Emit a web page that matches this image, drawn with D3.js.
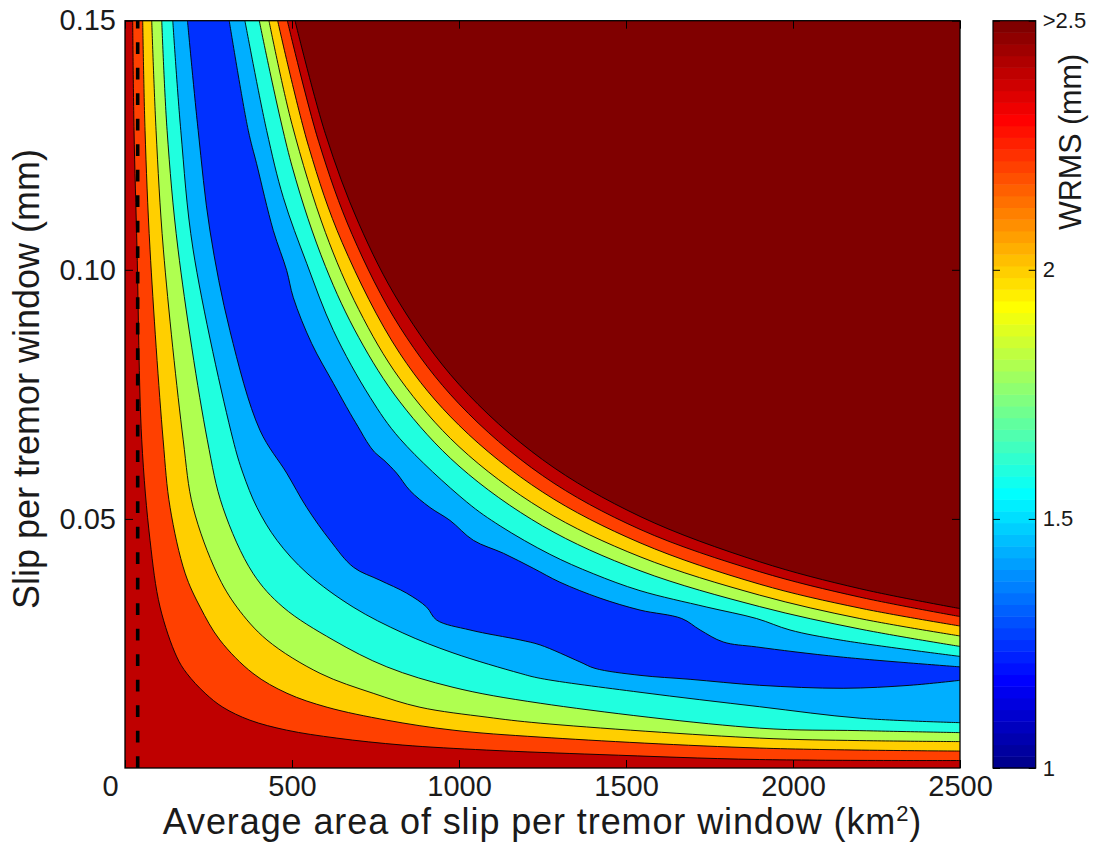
<!DOCTYPE html>
<html>
<head>
<meta charset="utf-8">
<script src="https://cdn.jsdelivr.net/npm/d3@7"></script>
<style>
  body { margin: 0; background: #fff; }
  text { font-family: "Liberation Sans", Arial, Helvetica, sans-serif; fill: #1a1a1a; }
</style>
</head>
<body>
<svg id="chart" width="1096" height="848"></svg>
<script>
// ---- Axis ticks -------------------------------------------------------
const xTicks = [0, 500, 1000, 1500, 2000, 2500];
const yTicks = [0.05, 0.10, 0.15];
const cbTicks = [1, 1.5, 2, 2.5];
const cbTickLabels = ["1", "1.5", "2", ">2.5"];

// ---- WRMS contour lines, [area km^2, slip mm] -------------------------
// Small-slip side of the misfit valley (left / bottom)
const lower24 = [[23,0.150],[27,0.128],[36,0.104],[50,0.066],[75,0.0457],[105,0.0323],[155,0.0223],[185,0.0190],[240,0.0150],[293,0.0122],[374,0.0096],[484,0.0076],[634,0.0060],[832,0.0046],[1083,0.0036],[1422,0.0027],[1900,0.0017],[2500,0.0015]];
const lower22 = [[53,0.150],[60,0.128],[75,0.104],[114,0.066],[135,0.0523],[180,0.0391],[225,0.0323],[284,0.0257],[383,0.0190],[485,0.0150],[605,0.0122],[784,0.0096],[982,0.0076],[1243,0.0062],[1900,0.0040],[2500,0.0034]];
const lower20 = [[80,0.150],[93,0.128],[115,0.104],[174,0.066],[204,0.0523],[275,0.0391],[335,0.0323],[425,0.0257],[584,0.0190],[743,0.0150],[883,0.0122],[1084,0.0102],[1243,0.0090],[1900,0.0060],[2200,0.0055],[2500,0.0053]];
const lower18 = [[110,0.150],[126,0.128],[159,0.104],[246,0.066],[293,0.0523],[383,0.0391],[473,0.0323],[623,0.0257],[784,0.0203],[982,0.0162],[1243,0.0130],[1900,0.0080],[2200,0.0075],[2500,0.0071]];
const lower16 = [[143,0.150],[167,0.128],[204,0.104],[323,0.066],[353,0.0592],[395,0.0523],[455,0.0457],[545,0.0391],[683,0.0323],[832,0.0271],[982,0.0231],[1183,0.0190],[1243,0.0180],[1542,0.0152],[1900,0.0123],[2200,0.0100],[2500,0.0091]];
const lower14 = [[187,0.150],[219,0.128],[254,0.108],[314,0.0878],[404,0.0678],[484,0.0592],[544,0.0523],[614,0.0457],[684,0.0403],[763,0.0377],[843,0.0351],[903,0.0323],[933,0.0297],[1033,0.0277],[1183,0.0257],[1243,0.0247],[1362,0.0213],[1407,0.0200],[1542,0.0186],[1692,0.0178],[1900,0.0166],[2150,0.0160],[2350,0.0166],[2500,0.0176]];
// Large-slip side of the misfit valley (upper right)
const upper14 = [[312,0.150],[369,0.128],[394,0.1213],[444,0.1079],[484,0.0999],[504,0.0944],[559,0.0852],[624,0.0772],[674,0.0712],[704,0.0678],[724,0.0655],[747,0.0634],[775,0.0618],[813,0.0592],[853,0.0557],[913,0.0523],[973,0.0497],[1043,0.0457],[1133,0.0431],[1222,0.0401],[1302,0.0373],[1422,0.0341],[1542,0.0317],[1667,0.0300],[1722,0.0277],[1791,0.0253],[1891,0.0243],[2141,0.0223],[2500,0.0203]];
const upper16 = [[359,0.150],[424,0.128],[474,0.1145],[544,0.1013],[624,0.0878],[734,0.0744],[823,0.0661],[1023,0.0534],[1123,0.0486],[1272,0.0429],[1402,0.0390],[1542,0.0356],[1742,0.0323],[1891,0.0300],[1991,0.0277],[2141,0.0257],[2500,0.0224]];
const upper18 = [[402,0.150],[500,0.1208],[600,0.1007],[700,0.0864],[823,0.0735],[1000,0.0606],[1250,0.0486],[1542,0.0396],[1900,0.0324],[2200,0.0279],[2500,0.0244]];
const upper20 = [[431,0.150],[500,0.1292],[600,0.1075],[700,0.0920],[823,0.0781],[1000,0.0645],[1250,0.0519],[1542,0.0424],[1900,0.0347],[2200,0.0300],[2500,0.0265]];
const upper22 = [[457,0.150],[550,0.1247],[650,0.1055],[823,0.0832],[1000,0.0688],[1250,0.0554],[1542,0.0452],[1900,0.0369],[2200,0.0321],[2500,0.0285]];
const upper24 = [[486,0.150],[580,0.1257],[680,0.1071],[823,0.0885],[1000,0.0731],[1250,0.0587],[1542,0.0479],[1900,0.0394],[2200,0.0343],[2500,0.0304]];
const upper25 = [[509,0.150],[600,0.1273],[700,0.1093],[823,0.0932],[1000,0.0770],[1250,0.0619],[1542,0.0505],[1900,0.0414],[2200,0.0360],[2500,0.0320]];

// Lines in left-to-right order, and the colormap slot (1..64) of the band
// lying beyond each one; the first slot is the band at the origin.
const contourLines = [lower24, lower22, lower20, lower18, lower16, lower14,
                      upper14, upper16, upper18, upper20, upper22, upper24, upper25];
const bandSlots = [60, 52, 43, 35, 26, 19, 11, 19, 26, 35, 43, 52, 60, 64];

// Reference area marked by the dashed line (km^2)
const markerArea = 38;

// ---- MATLAB-style jet colormap ---------------------------------------
function jet(m) {
  const n = Math.ceil(m / 4);
  const u = [];
  for (let k = 1; k <= n; k++) u.push(k / n);
  for (let k = 1; k < n; k++) u.push(1);
  for (let k = n; k >= 1; k--) u.push(k / n);
  const g0 = Math.ceil(n / 2) - (m % 4 === 1 ? 1 : 0);
  const r = new Array(m).fill(0), g = new Array(m).fill(0), b = new Array(m).fill(0);
  u.forEach((v, k) => {
    const gi = g0 + k, ri = gi + n, bi = gi - n;
    if (gi >= 0 && gi < m) g[gi] = v;
    if (ri >= 0 && ri < m) r[ri] = v;
    if (bi >= 0 && bi < m) b[bi] = v;
  });
  return d3.range(m).map(i => d3.rgb(r[i] * 255, g[i] * 255, b[i] * 255).formatHex());
}
const cmap = jet(64);

// ---- Layout ------------------------------------------------------------
const plot = { left: 125, right: 960, top: 20.7, bottom: 768 };
const bar = { left: 993, right: 1035.7 };

const svg = d3.select("#chart");
const x = d3.scaleLinear().domain([0, 2500]).range([plot.left, plot.right]);
const y = d3.scaleLinear().domain([0, 0.15]).range([plot.bottom, plot.top]);

svg.append("clipPath").attr("id", "plotClip")
  .append("rect")
  .attr("x", plot.left).attr("y", plot.top)
  .attr("width", plot.right - plot.left).attr("height", plot.bottom - plot.top);

const field = svg.append("g").attr("clip-path", "url(#plotClip)");

// Band at the origin
field.append("rect")
  .attr("x", plot.left).attr("y", plot.top)
  .attr("width", plot.right - plot.left).attr("height", plot.bottom - plot.top)
  .attr("fill", cmap[bandSlots[0] - 1]);

const line = d3.line()
  .x(d => x(d[0])).y(d => y(d[1]))
  .curve(d3.curveCatmullRom.alpha(0.5));

// Each band: region between a contour line and the top-right corner
contourLines.forEach((pts, i) => {
  const corner = `L${x(2500)},${y(0.15)}Z`;
  field.append("path")
    .attr("d", line(pts) + corner)
    .attr("fill", cmap[bandSlots[i + 1] - 1]);
});

// Contour outlines
field.selectAll("path.iso")
  .data(contourLines)
  .join("path")
  .attr("class", "iso")
  .attr("d", line)
  .attr("fill", "none")
  .attr("stroke", "#000")
  .attr("stroke-width", 0.9);

// Dashed reference line
field.append("line")
  .attr("x1", x(markerArea)).attr("x2", x(markerArea))
  .attr("y1", plot.bottom).attr("y2", plot.top)
  .attr("stroke", "#000")
  .attr("stroke-width", 3.6)
  .attr("stroke-dasharray", "11.7 13.8");

// ---- Axes ---------------------------------------------------------------
function styleAxis(g) {
  g.select(".domain").remove();
  g.selectAll(".tick line").attr("stroke", "#000").attr("stroke-width", 1);
  g.selectAll(".tick text").attr("fill", "#1a1a1a").style("font-size", "29px")
    .style("font-family", "'Liberation Sans', Arial, Helvetica, sans-serif");
}

svg.append("g")
  .attr("transform", `translate(0,${plot.bottom})`)
  .call(d3.axisBottom(x).tickValues(xTicks).tickSize(-8).tickPadding(7).tickFormat(d3.format("d")))
  .call(styleAxis)
  // the origin label sits just left of the corner
  .call(g => g.selectAll(".tick text").filter(d => d === 0).attr("dx", -15));
svg.append("g")
  .attr("transform", `translate(0,${plot.top})`)
  .call(d3.axisTop(x).tickValues(xTicks).tickSize(-8).tickFormat(""))
  .call(styleAxis);
svg.append("g")
  .attr("transform", `translate(${plot.left},0)`)
  .call(d3.axisLeft(y).tickValues(yTicks).tickSize(-8).tickPadding(9).tickFormat(d3.format(".2f")))
  .call(styleAxis);
svg.append("g")
  .attr("transform", `translate(${plot.right},0)`)
  .call(d3.axisRight(y).tickValues(yTicks).tickSize(-8).tickFormat(""))
  .call(styleAxis);

svg.append("rect")
  .attr("x", plot.left).attr("y", plot.top)
  .attr("width", plot.right - plot.left).attr("height", plot.bottom - plot.top)
  .attr("fill", "none").attr("stroke", "#000").attr("stroke-width", 1.3);

// Axis titles
const xTitle = svg.append("text")
  .attr("x", (plot.left + plot.right) / 2).attr("y", 834)
  .attr("text-anchor", "middle")
  .style("font-size", "36px")
  .style("letter-spacing", "0.9px");
xTitle.append("tspan").text("Average area of slip per tremor window (km");
xTitle.append("tspan").attr("dy", -13).style("font-size", "22px").text("2");
xTitle.append("tspan").attr("dy", 13).text(")");

svg.append("text")
  .attr("transform", `translate(39,379) rotate(-90)`)
  .attr("text-anchor", "middle")
  .style("font-size", "36px")
  .text("Slip per tremor window (mm)");

// ---- Colorbar -------------------------------------------------------------
const c = d3.scaleLinear().domain([1, 2.5]).range([plot.bottom, plot.top]);
const step = (plot.bottom - plot.top) / cmap.length;
svg.append("g").selectAll("rect")
  .data(cmap)
  .join("rect")
  .attr("x", bar.left)
  .attr("y", (d, i) => plot.bottom - (i + 1) * step)
  .attr("width", bar.right - bar.left)
  .attr("height", step + 0.5)
  .attr("fill", d => d);

svg.append("g")
  .attr("transform", `translate(${bar.right},0)`)
  .call(d3.axisRight(c).tickValues(cbTicks).tickSize(-7).tickPadding(7)
    .tickFormat((d, i) => cbTickLabels[i]))
  .call(styleAxis)
  .call(g => g.selectAll(".tick text").style("font-size", "22px"));
svg.append("g")
  .attr("transform", `translate(${bar.left},0)`)
  .call(d3.axisLeft(c).tickValues(cbTicks).tickSize(-7).tickFormat(""))
  .call(styleAxis);

svg.append("rect")
  .attr("x", bar.left).attr("y", plot.top)
  .attr("width", bar.right - bar.left).attr("height", plot.bottom - plot.top)
  .attr("fill", "none").attr("stroke", "#000").attr("stroke-width", 1.2);

svg.append("text")
  .attr("transform", `translate(1081,142) rotate(-90)`)
  .attr("text-anchor", "middle")
  .style("font-size", "30.5px")
  .text("WRMS (mm)");
</script>
</body>
</html>
